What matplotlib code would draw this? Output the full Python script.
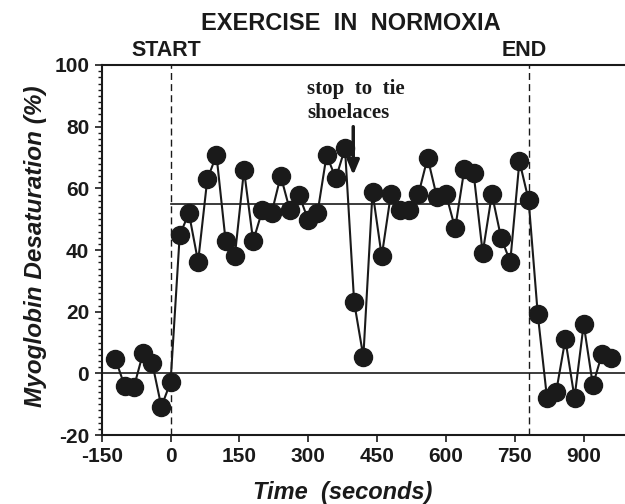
import numpy as np
import matplotlib
matplotlib.use("Agg")
import matplotlib.pyplot as plt

# Time (s) and myoglobin desaturation (%)
time_s = [-120, -100, -80, -60, -40, -20, 0, 20, 40, 60, 80, 100, 120, 140, 160,
          180, 200, 220, 240, 260, 280, 300, 320, 340, 360, 380, 400, 420, 440,
          460, 480, 500, 520, 540, 560, 580, 600, 620, 640, 660, 680, 700, 720,
          740, 760, 780, 800, 820, 840, 860, 880, 900, 920, 940, 960]
desat = [4.6, -4.1, -4.5, 6.5, 3.4, -10.8, -2.9, 44.9, 51.9, 36.2, 62.9, 70.8,
         42.9, 38.0, 65.9, 42.9, 52.9, 51.9, 64.0, 52.9, 57.8, 49.7, 51.9, 70.8,
         63.2, 73.0, 23.0, 5.4, 58.9, 38.0, 58.1, 53.0, 53.0, 58.1, 69.9, 57.3,
         58.1, 47.0, 66.2, 65.1, 39.1, 58.1, 44.0, 36.2, 68.8, 56.2, 19.1, -7.9,
         -6.0, 11.0, -7.9, 15.9, -3.8, 6.3, 5.1]

start_t = 0
end_t = 780
mean_level = 55
yticks = [-20, 0, 20, 40, 60, 80, 100]
xticks = [-150, 0, 150, 300, 450, 600, 750, 900]

plt.rcParams["axes.unicode_minus"] = False
ink = "#1a1a1a"
W, H = 625, 504

fig = plt.figure(figsize=(W / 100, H / 100), dpi=100)
ax = fig.add_axes([101.7 / W, 1 - 435 / H, (W - 101.7) / W, 370 / H])

ax.axhline(0, color=ink, lw=1.2, zorder=1)
ax.plot([start_t, end_t], [mean_level, mean_level], color=ink, lw=1.2, zorder=1)
for t in (start_t, end_t):
    ax.plot([t, t], [-20, 100], color=ink, lw=1.0, dashes=(5, 3), zorder=1)

ax.plot(time_s, desat, color=ink, lw=1.5, marker="o", markersize=13,
        markerfacecolor=ink, markeredgecolor=ink, zorder=3, clip_on=False)

ax.set_xlim(-150, 990)
ax.set_ylim(-20, 100)
ax.set_xticks(xticks)
ax.set_yticks(yticks)
ax.set_yticks(np.arange(-20, 101, 2), minor=True)

for s in ("left", "bottom", "top"):
    ax.spines[s].set_linewidth(1.5)
    ax.spines[s].set_color(ink)
ax.spines["right"].set_visible(False)

ax.tick_params(axis="both", which="major", direction="out", length=5, width=1.2,
               color=ink, labelsize=15, pad=4)
ax.tick_params(axis="y", which="minor", direction="out", length=3, width=1.0, color=ink)
ax.tick_params(axis="x", which="minor", length=0)
for lab in ax.get_xticklabels() + ax.get_yticklabels():
    lab.set_fontweight("bold")
    lab.set_fontfamily("Liberation Sans")
    lab.set_color(ink)

# annotation + arrow
ax.text(298, 95.5, "stop  to  tie\nshoelaces", family="Liberation Serif",
        fontweight="bold", fontsize=15, va="top", ha="left", linespacing=1.3, color=ink)
ax.annotate("", xy=(398, 64.3), xytext=(398, 80),
            arrowprops=dict(arrowstyle="-|>,head_width=0.36,head_length=0.86",
                            mutation_scale=10, lw=2.5, color=ink,
                            shrinkA=0, shrinkB=0))

sans = "Liberation Sans"
fig.text(351 / W, 1 - 23.5 / H, "EXERCISE  IN  NORMOXIA", family=sans, fontweight="bold",
         fontsize=17, ha="center", va="center", color=ink)
fig.text(166 / W, 1 - 51 / H, "START", family=sans, fontweight="bold",
         fontsize=15.5, ha="center", va="center", color=ink)
fig.text(524.5 / W, 1 - 51 / H, "END", family=sans, fontweight="bold",
         fontsize=15.5, ha="center", va="center", color=ink)
fig.text(36 / W, 1 - 246 / H, "Myoglobin Desaturation (%)", family=sans, fontweight="bold",
         style="italic", fontsize=17.5, rotation=90, ha="center", va="center", color=ink)
fig.text(343 / W, 1 - 492 / H, "Time  (seconds)", family=sans, fontweight="bold",
         style="italic", fontsize=17, ha="center", va="center", color=ink)

fig.savefig("out.png", dpi=100)
